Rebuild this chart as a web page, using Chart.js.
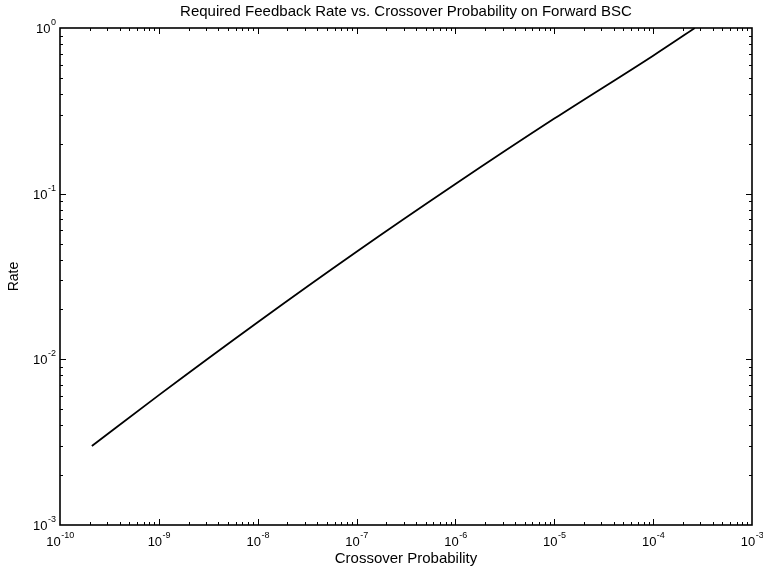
<!DOCTYPE html>
<html>
<head>
<meta charset="utf-8">
<script src="https://cdn.jsdelivr.net/npm/chart.js@4/dist/chart.umd.min.js"></script>
<style>
  html, body { margin: 0; padding: 0; background: #fff; }
  #wrap { width: 763px; height: 568px; }
</style>
</head>
<body>
<div id="wrap"><canvas id="rate_chart" width="763" height="568"></canvas></div>
<script>
// values
const crossoverProb = [2.1e-10, 1e-9, 1e-8, 1e-7, 1e-6, 1e-5, 1e-4, 2.64e-4];
const feedbackRate = [0.0030, 0.00608, 0.01675, 0.0446, 0.1143, 0.2838, 0.681, 1.0];

// decade ticks, labelled as 10 with a superscript exponent
const xDecades = [1e-10, 1e-9, 1e-8, 1e-7, 1e-6, 1e-5, 1e-4, 1e-3];
const xTickExponents = ['-10', '-9', '-8', '-7', '-6', '-5', '-4', '-3'];
const yDecades = [1e-3, 1e-2, 1e-1, 1];
const yTickExponents = ['-3', '-2', '-1', '0'];

const FONT = "'Liberation Sans', Arial, Helvetica, sans-serif";

function decade_ticks(decades) {
    let ticks = [];
    for (let i = 0; i < decades.length - 1; i++) {
        for (let m = 1; m <= 9; m++) {
            ticks.push({value: m * decades[i], major: m === 1});
        }
    }
    ticks.push({value: decades[decades.length - 1], major: true});
    return ticks;
}

const white_background = {
    id: 'white_background', beforeDraw: (chart) => {
        const ctx = chart.ctx;
        ctx.save();
        ctx.fillStyle = 'white';
        ctx.fillRect(0, 0, chart.width, chart.height);
        ctx.restore();
    }
};

// matlab style box with inward ticks on all four sides, plus 10^n labels
const box_ticks = {
    id: 'box_ticks', afterDraw: (chart) => {
        const ctx = chart.ctx;
        const area = chart.chartArea;
        const xs = chart.scales.x, ys = chart.scales.y;
        ctx.save();
        ctx.strokeStyle = '#000';
        ctx.lineWidth = 1;
        ctx.beginPath();
        xs.ticks.forEach(t => {
            const px = Math.round(xs.getPixelForValue(t.value)) + 0.5;
            if (px <= area.left + 1 || px >= area.right - 1) return;
            const len = t.major ? 6 : 3;
            ctx.moveTo(px, area.bottom); ctx.lineTo(px, area.bottom - len);
            ctx.moveTo(px, area.top); ctx.lineTo(px, area.top + len);
        });
        ys.ticks.forEach(t => {
            const py = Math.round(ys.getPixelForValue(t.value)) + 0.5;
            if (py <= area.top + 1 || py >= area.bottom - 1) return;
            const len = t.major ? 6 : 3;
            ctx.moveTo(area.left, py); ctx.lineTo(area.left + len, py);
            ctx.moveTo(area.right, py); ctx.lineTo(area.right - len, py);
        });
        ctx.stroke();
        ctx.lineWidth = 1.6;
        ctx.strokeRect(area.left, area.top, area.right - area.left, area.bottom - area.top);

        // tick labels
        const baseFont = '13px ' + FONT;
        const expFont = '9px ' + FONT;
        ctx.fillStyle = '#000';
        ctx.textBaseline = 'alphabetic';
        ctx.textAlign = 'left';
        xDecades.forEach((v, i) => {
            const px = xs.getPixelForValue(v);
            ctx.font = baseFont;
            const wb = ctx.measureText('10').width;
            ctx.font = expFont;
            const we = ctx.measureText(xTickExponents[i]).width;
            const x0 = px - (wb + we) / 2;
            ctx.font = baseFont;
            ctx.fillText('10', x0, area.bottom + 21);
            ctx.font = expFont;
            ctx.fillText(xTickExponents[i], x0 + wb + 0.5, area.bottom + 13);
        });
        yDecades.forEach((v, i) => {
            const py = ys.getPixelForValue(v);
            ctx.font = expFont;
            const we = ctx.measureText(yTickExponents[i]).width;
            ctx.font = baseFont;
            const wb = ctx.measureText('10').width;
            const x1 = area.left - 4;
            ctx.fillText('10', x1 - we - 0.5 - wb, py + 5);
            ctx.font = expFont;
            ctx.fillText(yTickExponents[i], x1 - we, py - 3);
        });
        ctx.restore();
    }
};

Chart.defaults.color = '#000';
Chart.defaults.font.family = FONT;

const config = {
    type: 'line',
    data: {
        datasets: [{
            data: crossoverProb.map((x, i) => ({x: x, y: feedbackRate[i]})),
            borderColor: '#000',
            borderWidth: 1.8,
            pointRadius: 0,
            cubicInterpolationMode: 'monotone',
            fill: false
        }]
    },
    options: {
        animation: false,
        responsive: false,
        layout: {padding: {left: 0, right: 11, top: 0, bottom: 0}},
        plugins: {
            legend: {display: false},
            tooltip: {enabled: false},
            title: {
                display: true,
                fullSize: false,
                text: 'Required Feedback Rate vs. Crossover Probability on Forward BSC',
                font: {size: 15, weight: 'normal', family: FONT},
                color: '#000',
                padding: {top: 3, bottom: 7}
            }
        },
        scales: {
            x: {
                type: 'logarithmic',
                min: 1e-10,
                max: 1e-3,
                afterBuildTicks: (scale) => { scale.ticks = decade_ticks(xDecades); },
                afterFit: (scale) => {
                    scale.height = 43;
                    scale.paddingLeft = 0;
                    scale.paddingRight = 0;
                },
                grid: {display: false, drawTicks: false},
                border: {display: false},
                ticks: {display: false, autoSkip: false},
                title: {
                    display: true,
                    text: 'Crossover Probability',
                    font: {size: 15},
                    padding: {top: 0, bottom: 0}
                }
            },
            y: {
                type: 'logarithmic',
                min: 1e-3,
                max: 1,
                afterBuildTicks: (scale) => { scale.ticks = decade_ticks(yDecades); },
                afterFit: (scale) => {
                    scale.width = 60;
                    scale.paddingTop = 0;
                    scale.paddingBottom = 0;
                },
                grid: {display: false, drawTicks: false},
                border: {display: false},
                ticks: {display: false, autoSkip: false},
                title: {
                    display: true,
                    text: 'Rate',
                    font: {size: 14},
                    padding: {top: 6, bottom: 0}
                }
            }
        }
    },
    plugins: [white_background, box_ticks]
};

new Chart(document.getElementById('rate_chart').getContext('2d'), config);
</script>
</body>
</html>
